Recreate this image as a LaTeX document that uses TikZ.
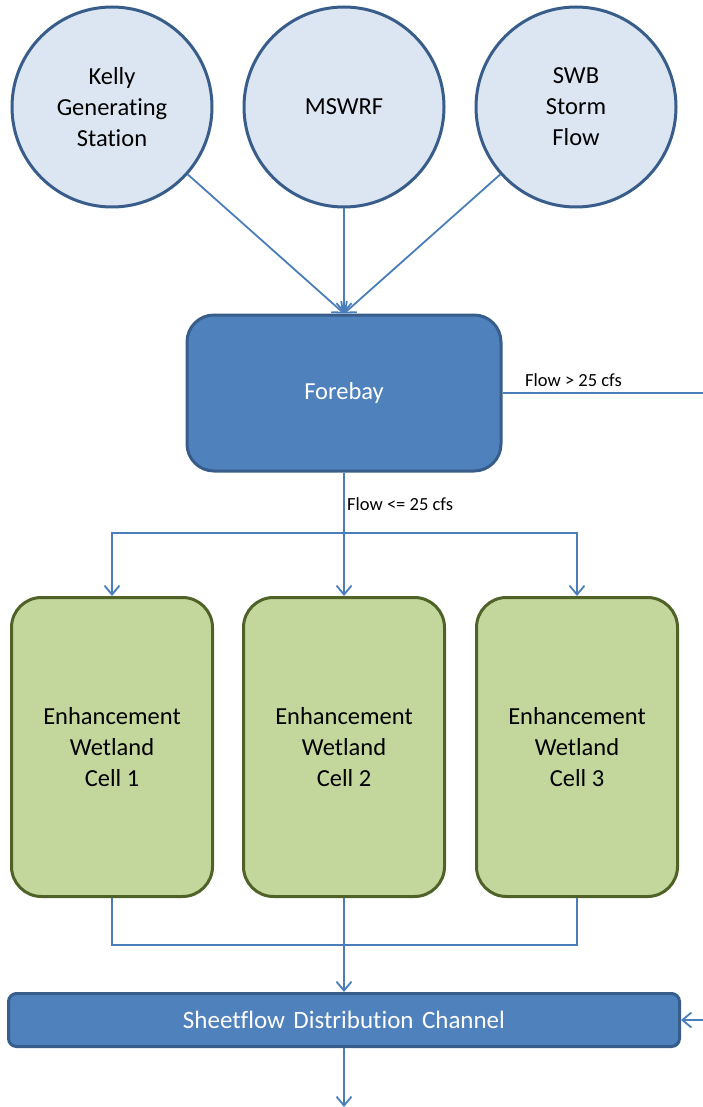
\documentclass[tikz,border=0pt]{standalone}
\usepackage{fontspec}
\setmainfont{Carlito}[Ligatures={NoCommon}]
\usetikzlibrary{arrows.meta}
\definecolor{linec}{HTML}{4A7EBB}
\definecolor{circfill}{HTML}{DCE6F2}
\definecolor{darkblue}{HTML}{385D8A}
\definecolor{midblue}{HTML}{4F81BD}
\definecolor{greenfill}{HTML}{C3D69B}
\definecolor{greenline}{HTML}{4F6228}
\tikzset{
  src/.style={circle, draw=darkblue, line width=3pt, fill=circfill, minimum size=200pt, inner sep=0pt, align=center, font=\fontsize{24.5}{31}\selectfont},
  bluebox/.style={rectangle, draw=darkblue, line width=3pt, fill=midblue, text=white, align=center, font=\fontsize{24.5}{31}\selectfont},
  cellbox/.style={rectangle, draw=greenline, line width=3pt, fill=greenfill, rounded corners=30pt, minimum width=201pt, minimum height=299pt, align=center, inner sep=0pt, font=\fontsize{24.5}{31}\selectfont},
  conn/.style={draw=linec, line width=1.8pt},
  arr/.style={conn, -{Straight Barb[length=9pt,width=15pt,line width=1.8pt]}},
  lbl/.style={font=\fontsize{18.5}{22}\selectfont, inner sep=0pt, anchor=west}
}
\begin{document}
\begin{tikzpicture}[x=1pt,y=-1pt]
\useasboundingbox (0,0) rectangle (703,1107);
\node[src] (kelly) at (112,107) {Kelly\\Generating\\Station};
\node[src] (mswrf) at (344,107) {MSWRF};
\node[src] (swb) at (576,107) {SWB\\Storm\\Flow};
\node[bluebox, rounded corners=27pt, minimum width=314pt, minimum height=156pt] (fore) at (344,393) {Forebay};
\node[cellbox] (c1) at (112,747) {Enhancement\\Wetland\\Cell 1};
\node[cellbox] (c2) at (344,747) {Enhancement\\Wetland\\Cell 2};
\node[cellbox] (c3) at (577,747) {Enhancement\\Wetland\\Cell 3};
\node[bluebox, rounded corners=8pt, minimum width=671pt, minimum height=53pt, inner sep=0pt, font=\fontsize{25}{31}\selectfont] (sheet) at (344,1020) {Sheetflow\hspace{0.34em}Distribution\hspace{0.34em}Channel};
\coordinate (split) at (344,533);
\coordinate (join) at (344,945);
\coordinate (overR) at (703,393);
\coordinate (inR) at (703,1020);
\coordinate (out) at (344,1107);
\draw[arr] (kelly) -- (fore.north);
\draw[arr] (mswrf) -- (fore.north);
\draw[arr] (swb) -- (fore.north);
\draw[conn] (fore.east) -- (overR);
\node[lbl] (l1) at (525,380) {Flow > 25 cfs};
\draw[arr] (fore.south) -- (c2.north);
\node[lbl] (l2) at (347,504) {Flow <= 25 cfs};
\draw[arr] (split) -| (c1.north);
\draw[arr] (split) -| (c3.north);
\draw[conn] (c1.south) |- (join) -| (c3.south);
\draw[arr] (c2.south) -- (sheet.north);
\draw[arr] (inR) -- (sheet.east);
\draw[arr] (sheet.south) -- (out);
\end{tikzpicture}
\end{document}
